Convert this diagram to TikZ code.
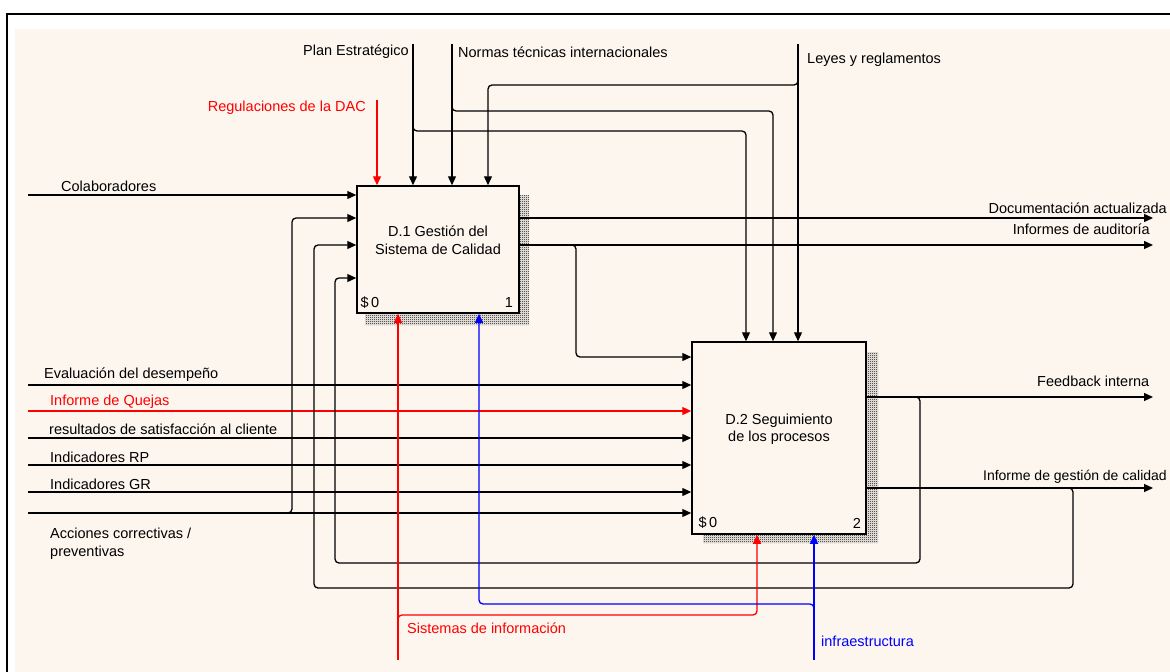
\documentclass[tikz,border=0pt]{standalone}
\usepackage{fontspec}
\setmainfont{Liberation Sans}
\usetikzlibrary{arrows.meta,patterns,calc}
\definecolor{paper}{RGB}{252,246,239}
\definecolor{flowred}{RGB}{255,0,0}
\definecolor{flowblue}{RGB}{0,0,255}
% fine checker used for the drop shadows of the activity boxes
\pgfdeclarepatternformonly{finecheck}{\pgfpointorigin}{\pgfpoint{2pt}{2pt}}{\pgfpoint{2pt}{2pt}}{%
  \pgfpathrectangle{\pgfpointorigin}{\pgfpoint{1pt}{1pt}}%
  \pgfpathrectangle{\pgfpoint{1pt}{1pt}}{\pgfpoint{1pt}{1pt}}%
  \pgfusepath{fill}}

\begin{document}
\begin{tikzpicture}[x=1pt,y=-1pt,
  every node/.style={font=\fontsize{14.5}{17.5}\selectfont, inner sep=0pt},
  actbox/.style={draw, line width=1.5pt, fill=paper},
  flow/.style={line width=1.3pt, -{Triangle[length=9pt,width=8pt]}},
  rc/.style={rounded corners=4pt},
  shade/.style={pattern=finecheck, pattern color=black}]

\useasboundingbox (0,0) rectangle (1170,672);
\fill[white] (0,0) rectangle (1170,672);
\fill[paper] (15,29) rectangle (1170,672);
\draw[line width=2pt] (7,14) rectangle (1200,700);

% activity boxes
\fill[shade] (519,195) -- (529,195) -- (529,325) -- (365,325) -- (365,313) -- (519,313) -- cycle;
\fill[shade] (866,352) -- (878,352) -- (878,543) -- (703,543) -- (703,534) -- (866,534) -- cycle;
\node[actbox, minimum width=162pt, minimum height=127pt] (d1) at (438,249.5) {};
\node[actbox, minimum width=174pt, minimum height=192pt] (d2) at (779,438) {};

\node[align=center] (d1t) at (438,240) {D.1 Gestión del\\Sistema de Calidad};
\node (d1n) at (370,303) {\$\,0};
\node (d1k) at (509,303) {1};
\node[align=center] (d2t) at (779,429) {D.2 Seguimiento\\de los procesos};
\node (d2n) at (708,523) {\$\,0};
\node (d2k) at (857,523) {2};

% free ends of the arrows
\coordinate (planS) at (413,44);
\coordinate (normS) at (452,44);
\coordinate (leyS)  at (798,44);
\coordinate (dacS)  at (377,100);
\coordinate (colS)  at (28,195);
\coordinate (evaS)  at (28,385);
\coordinate (quejS) at (28,411);
\coordinate (resS)  at (28,438);
\coordinate (rpS)   at (28,465);
\coordinate (grS)   at (28,492);
\coordinate (accS)  at (28,513);
\coordinate (sisS)  at (398,660);
\coordinate (infS)  at (814,660);
\coordinate (docE)  at (1153,218);
\coordinate (audE)  at (1153,245);
\coordinate (fbE)   at (1153,397);
\coordinate (igcE)  at (1153,488);

% bend points of the branches
\coordinate (planT2) at (746,131);
\coordinate (normT2) at (773,111);
\coordinate (leyT1)  at (488,85);
\coordinate (accT1)  at (292,218);
\coordinate (audT2)  at (576,357);
\coordinate (fbB)    at (920,563);
\coordinate (fbT1)   at (335,278);
\coordinate (igcB)   at (1073,588);
\coordinate (igcT1)  at (314,245);
\coordinate (sisT2)  at (757,615);
\coordinate (infT1)  at (479,604);

% controls
\draw[flow, flowred] (dacS) -- (dacS |- d1.north);
\draw[flow] (planS) -- (planS |- d1.north);
\draw[flow] (normS) -- (normS |- d1.north);
\draw[flow] (leyS) -- (leyS |- d2.north);
\draw[flow, rc] ($(planS)+(0,80)$) |- (planT2) -- (planT2 |- d2.north);
\draw[flow, rc] ($(normS)+(0,60)$) |- (normT2) -- (normT2 |- d2.north);
\draw[flow, rc] ($(leyS)+(0,34)$) |- (leyT1) -- (leyT1 |- d1.north);

% inputs
\draw[flow] (colS) -- (colS -| d1.west);
\draw[flow] (evaS) -- (evaS -| d2.west);
\draw[flow, flowred] (quejS) -- (quejS -| d2.west);
\draw[flow] (resS) -- (resS -| d2.west);
\draw[flow] (rpS) -- (rpS -| d2.west);
\draw[flow] (grS) -- (grS -| d2.west);
\draw[flow] (accS) -- (accS -| d2.west);
\draw[flow, rc] ($(accS)+(256,0)$) -| (accT1) -- (accT1 -| d1.west);

% outputs and feedback
\draw[flow] (docE -| d1.east) -- (docE);
\draw[flow] (audE -| d1.east) -- (audE);
\draw[flow] (fbE -| d2.east) -- (fbE);
\draw[flow] (igcE -| d2.east) -- (igcE);
\draw[flow, rc] ($(audE -| d1.east)+(50,0)$) -| (audT2) -- (audT2 -| d2.west);
\draw[flow, rc] ($(fbE -| d2.east)+(48,0)$) -| (fbB) -| (fbT1) -- (fbT1 -| d1.west);
\draw[flow, rc] ($(igcE -| d2.east)+(200,0)$) -| (igcB) -| (igcT1) -- (igcT1 -| d1.west);

% mechanisms
\draw[flow, flowred] (sisS) -- (sisS |- d1.south);
\draw[flow, flowred, rc] ($(sisS)+(0,-40)$) |- (sisT2) -- (sisT2 |- d2.south);
\draw[flow, flowblue] (infS) -- (infS |- d2.south);
\draw[flow, flowblue, rc] ($(infS)+(0,-50)$) |- (infT1) -- (infT1 |- d1.south);

% arrow labels
\node[anchor=east] (lplan) at (409,52) {Plan Estratégico};
\node[anchor=west] (lnorm) at (458,52) {Normas técnicas internacionales};
\node[anchor=west] (lley) at (807,60) {Leyes y reglamentos};
\node[anchor=east, text=flowred] (ldac) at (366,108) {Regulaciones de la DAC};
\node[anchor=west] (lcol) at (61,186) {Colaboradores};
\node[anchor=west] (leva) at (44,375) {Evaluación del desempeño};
\node[anchor=west, text=flowred] (lquej) at (50,402) {Informe de Quejas};
\node[anchor=west] (lres) at (49,429) {resultados de satisfacción al cliente};
\node[anchor=west] (lrp) at (50,457) {Indicadores RP};
\node[anchor=west] (lgr) at (50,484) {Indicadores GR};
\node[anchor=north west, align=left] (lacc) at (50,528) {Acciones correctivas /\\preventivas};
\node[anchor=east] (ldoc) at (1167,208) {Documentación actualizada};
\node[anchor=east] (laud) at (1150,229) {Informes de auditoría};
\node[anchor=west] (lfb) at (1037,381) {Feedback interna};
\node[anchor=east, font=\fontsize{14}{17}\selectfont] (ligc) at (1167,477) {Informe de gestión de calidad};
\node[anchor=west, text=flowred] (lsis) at (407,628) {Sistemas de información};
\node[anchor=west, text=flowblue] (linf) at (821,641) {infraestructura};
\end{tikzpicture}
\end{document}
